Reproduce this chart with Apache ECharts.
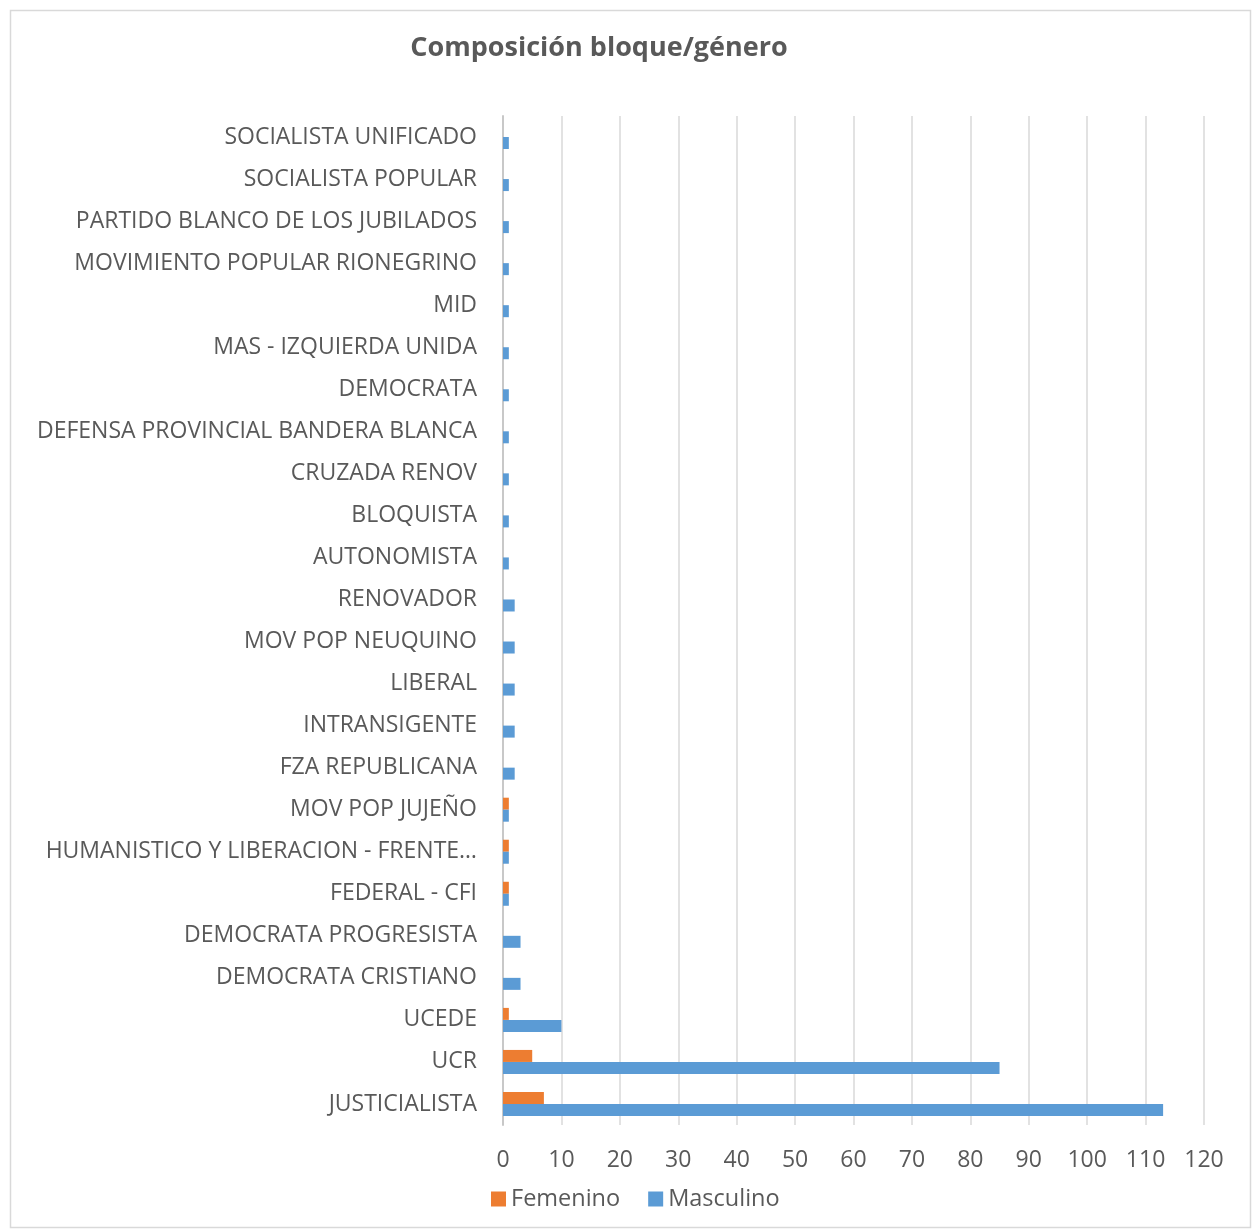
<!DOCTYPE html>
<html>
<head>
<meta charset="utf-8">
<script src="https://cdn.jsdelivr.net/npm/echarts@6/dist/echarts.min.js"></script>
<style>
html,body{margin:0;padding:0;background:#fff;}
#c{width:1254px;height:1229px;}
</style>
</head>
<body>
<div id="c"></div>
<script>
const categories = [
  "SOCIALISTA UNIFICADO",
  "SOCIALISTA POPULAR",
  "PARTIDO BLANCO DE LOS JUBILADOS",
  "MOVIMIENTO POPULAR RIONEGRINO",
  "MID",
  "MAS - IZQUIERDA UNIDA",
  "DEMOCRATA",
  "DEFENSA PROVINCIAL BANDERA BLANCA",
  "CRUZADA RENOV",
  "BLOQUISTA",
  "AUTONOMISTA",
  "RENOVADOR",
  "MOV POP NEUQUINO",
  "LIBERAL",
  "INTRANSIGENTE",
  "FZA REPUBLICANA",
  "MOV POP JUJEÑO",
  "HUMANISTICO Y LIBERACION - FRENTE…",
  "FEDERAL - CFI",
  "DEMOCRATA PROGRESISTA",
  "DEMOCRATA CRISTIANO",
  "UCEDE",
  "UCR",
  "JUSTICIALISTA"
];
const femenino = [0,0,0,0,0,0,0,0,0,0,0,0,0,0,0,0,1,1,1,0,0,1,5,7];
const masculino = [1,1,1,1,1,1,1,1,1,1,1,2,2,2,2,2,1,1,1,3,3,10,85,113];
const xTicks = {min:0, max:120, interval:10};

const chart = echarts.init(document.getElementById('c'));
const font = '"Open Sans", "Liberation Sans", sans-serif';
chart.setOption({
  animation:false,
  textStyle:{fontFamily:font},
  title:{
    text:'Composición bloque/género',
    left:594, top:30, textAlign:'center',
    textStyle:{fontSize:27, fontWeight:'bold', color:'#595959', fontFamily:font}
  },
  graphic:[{
    type:'rect', left:8, top:8, z:-1,
    shape:{width:1240, height:1217},
    style:{fill:'none', stroke:'#d9d9d9', lineWidth:1.5}
  }],
  legend:{
    data:['Femenino','Masculino'],
    top:1182, left:486,
    icon:'rect', itemWidth:15, itemHeight:15, itemGap:28,
    textStyle:{fontSize:23.5, color:'#595959', fontFamily:font}
  },
  grid:{left:503, right:50, top:116, bottom:104, containLabel:false},
  xAxis:{
    type:'value', min:xTicks.min, max:xTicks.max, interval:xTicks.interval,
    axisLine:{show:false}, axisTick:{show:false},
    axisLabel:{fontSize:23, color:'#595959', margin:24, fontFamily:font},
    splitLine:{lineStyle:{color:'#d9d9d9', width:1.5}}
  },
  yAxis:{
    type:'category', data:categories, inverse:true,
    axisTick:{show:false},
    axisLine:{lineStyle:{color:'#c8c8c8', width:2}},
    axisLabel:{fontSize:23, color:'#595959', margin:26, fontFamily:font}
  },
  series:[
    {name:'Femenino', type:'bar', data:femenino, barWidth:12, barGap:'0%',
     itemStyle:{color:'#ED7D31'}},
    {name:'Masculino', type:'bar', data:masculino, barWidth:12, barGap:'0%',
     itemStyle:{color:'#5B9BD5'}}
  ]
});
</script>
</body>
</html>
